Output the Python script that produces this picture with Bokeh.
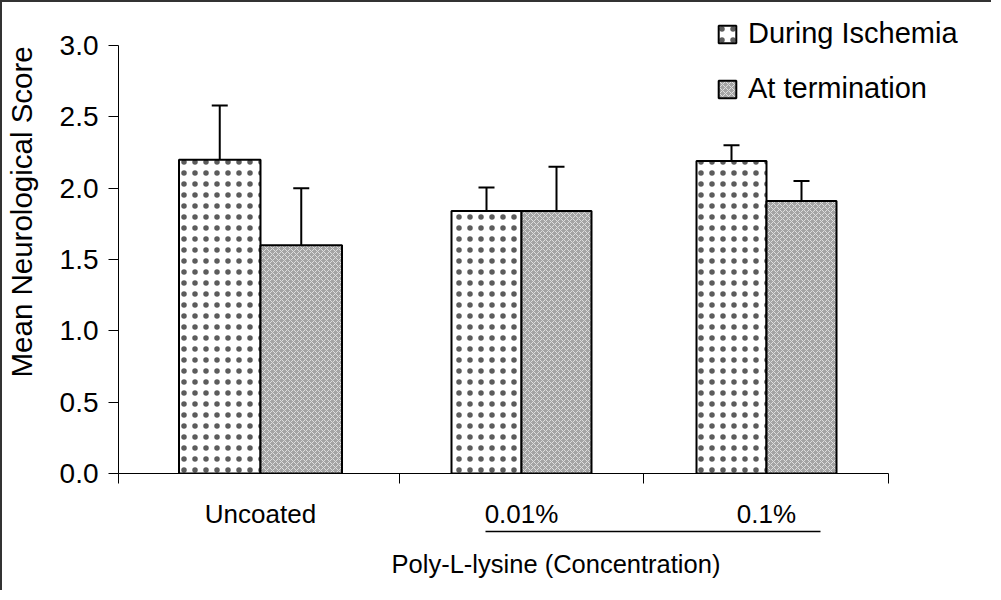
from bokeh.plotting import figure
from bokeh.models import (Range1d, LinearAxis, FixedTicker, Whisker, TeeHead, Title,
                          ColumnDataSource, Legend, LegendItem, NumeralTickFormatter)
from bokeh.embed import file_html
from bokeh.resources import INLINE

# ---- data ----
categories = ["Uncoated", "0.01%", "0.1%"]
during_mean = [2.20, 1.84, 2.19]
during_err = [0.38, 0.165, 0.11]
term_mean = [1.60, 1.84, 1.91]
term_err = [0.40, 0.31, 0.14]
series_labels = ["During Ischemia", "At termination"]
y_ticks = [0.0, 0.5, 1.0, 1.5, 2.0, 2.5, 3.0]
y_label = "Mean Neurological Score"
group_label = "Poly-L-lysine (Concentration)"

# ---- layout (x in pixel-like units from the y axis) ----
group_bounds = [0, 281, 525, 770]
group_centers = [142, 403, 648]
bar_widths = [81.5, 70, 70]

FONT = "Liberation Sans"

during_x = [c - w / 2 for c, w in zip(group_centers, bar_widths)]
term_x = [c + w / 2 for c, w in zip(group_centers, bar_widths)]

src_d = ColumnDataSource(dict(x=during_x, top=during_mean, w=bar_widths,
                              up=[m + e for m, e in zip(during_mean, during_err)]))
src_t = ColumnDataSource(dict(x=term_x, top=term_mean, w=bar_widths,
                              up=[m + e for m, e in zip(term_mean, term_err)]))

p = figure(width=991, height=590, x_range=Range1d(0, 875),
           y_range=Range1d(0, 3.0 * 471 / 428),
           output_backend="svg", toolbar_location=None,
           x_axis_location=None, y_axis_location=None,
           min_border_left=116, min_border_right=0, min_border_top=0,
           min_border_bottom=119)
p.styles = {"border-left": "2px solid #333333", "border-top": "2px solid #333333"}
p.xgrid.visible = False
p.ygrid.visible = False
p.outline_line_color = None
p.background_fill_color = "white"
p.border_fill_color = "white"

r_d = p.vbar(x="x", top="top", bottom=0, width="w", source=src_d,
             fill_color="white", line_color="black", line_width=2,
             hatch_pattern="dot", hatch_color="#333333", hatch_scale=11,
             hatch_weight=0.5, hatch_alpha=0.8)
r_t = p.vbar(x="x", top="top", bottom=0, width="w", source=src_t,
             fill_color="#a4a4a4", line_color="black", line_width=2,
             hatch_pattern="diagonal_cross", hatch_color="#dedede",
             hatch_scale=6, hatch_weight=1)

for src in (src_d, src_t):
    wk = Whisker(base="x", lower="top", upper="up", source=src,
                 line_color="black", line_width=2, level="overlay",
                 upper_head=TeeHead(size=16, line_color="black", line_width=2),
                 lower_head=None)
    p.add_layout(wk)

# y axis
yax = LinearAxis(bounds=(0, 3), ticker=FixedTicker(ticks=y_ticks),
                 formatter=NumeralTickFormatter(format="0.0"),
                 major_tick_out=10, major_tick_in=0,
                 minor_tick_out=0, minor_tick_in=0,
                 axis_line_color="black", axis_line_width=1,
                 major_tick_line_color="black",
                 major_label_text_font=FONT, major_label_text_font_size="28px",
                 major_label_text_color="black", major_label_standoff=10)
p.add_layout(yax, "left")

# invisible spacer between the tick labels and the y title
spacer = LinearAxis(bounds=(3.2, 3.2), ticker=FixedTicker(ticks=[3.2]),
                    axis_line_color=None, major_tick_line_alpha=0,
                    minor_tick_line_color=None,
                    major_tick_out=19, major_tick_in=0,
                    minor_tick_out=0, minor_tick_in=0,
                    major_label_overrides={3.2: ""},
                    major_label_text_font_size="1px", major_label_standoff=0)
p.add_layout(spacer, "left")

# y axis title (left title, starting from the bottom with an offset)
p.add_layout(Title(text=y_label, align="left", offset=96, standoff=0,
                   text_font=FONT, text_font_size="29.5px",
                   text_font_style="normal", text_color="black"), "left")

# x axis (categories)
xax = LinearAxis(bounds=(group_bounds[0], group_bounds[-1]),
                 ticker=FixedTicker(ticks=group_centers, minor_ticks=group_bounds),
                 major_label_overrides={float(c): lab for c, lab in zip(group_centers, categories)},
                 major_tick_out=0, major_tick_in=0,
                 minor_tick_out=10, minor_tick_in=0,
                 axis_line_color="black", axis_line_width=1,
                 minor_tick_line_color="black",
                 major_label_text_font=FONT, major_label_text_font_size="26px",
                 major_label_text_color="black", major_label_standoff=15)
p.add_layout(xax, "below")

# group axis (underline + label)
gax = LinearAxis(bounds=(367, 702), ticker=FixedTicker(ticks=[]),
                 axis_line_color="black", axis_line_width=1.5,
                 major_tick_line_color=None, minor_tick_line_color=None,
                 major_label_text_font_size="0px",
                 axis_label=group_label, axis_label_text_font=FONT,
                 axis_label_text_font_size="25.5px",
                 axis_label_text_font_style="normal",
                 axis_label_text_color="black", axis_label_standoff=18)
p.add_layout(gax, "below")

legend = Legend(items=[LegendItem(label=series_labels[0], renderers=[r_d]),
                       LegendItem(label=series_labels[1], renderers=[r_t])],
                location=(598, 368), orientation="vertical",
                background_fill_alpha=0, border_line_color=None,
                label_text_font=FONT, label_text_font_size="29px",
                label_text_color="black",
                glyph_width=22, glyph_height=22, label_standoff=10,
                spacing=22, padding=0, margin=0)
p.add_layout(legend, "center")

open("out.html", "w").write(file_html(p, INLINE))
